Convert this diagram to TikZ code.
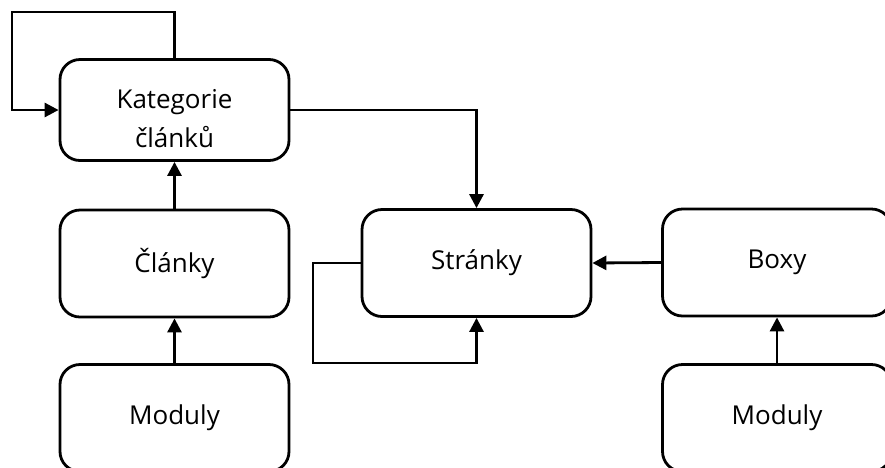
\documentclass[tikz,border=0pt]{standalone}
\usepackage{fontspec}
\setmainfont{Open Sans}
\usetikzlibrary{arrows.meta}
\begin{document}
\begin{tikzpicture}[x=1pt,y=-1pt,
  lbl/.style={align=center, inner sep=0pt, font=\fontsize{26}{39}\selectfont},
  box/.style={draw, line width=2.8pt, rounded corners=20pt, minimum width=229pt, minimum height=107pt, lbl},
  conn/.style={line width=2.8pt, -{Triangle[length=14pt,width=14pt]}}]
\useasboundingbox (0,0) rectangle (885,467);
\node[box, minimum height=101pt] (kat) at (174.5,110) {};
\node[lbl] (katt) at (174.5,119) {Kategorie\\článků};
\node[box] (cl) at (174.5,263.5) {Články};
\node[box] (mod1) at (174.5,418) {Moduly};
\node[box] (str) at (476.5,263) {Stránky};
\node[box] (boxy) at (777,262.5) {Boxy};
\node[box] (mod2) at (777,418) {Moduly};
\coordinate (l1) at (174.5,12);
\coordinate (l2) at (12,12);
\coordinate (sl) at (313,363);
\draw[conn] (kat.north) -- (l1) -| (l2) |- (kat.west);
\draw[conn] (kat.east) -| (str.north);
\draw[conn] (cl.north) -- (kat.south);
\draw[conn] (mod1.north) -- (cl.south);
\draw[conn] (str.west) -| (sl) -| (str.south);
\draw[conn] (boxy.west) -- (str.east);
\draw[conn] (mod2.north) -- (boxy.south);
\end{tikzpicture}
\end{document}
